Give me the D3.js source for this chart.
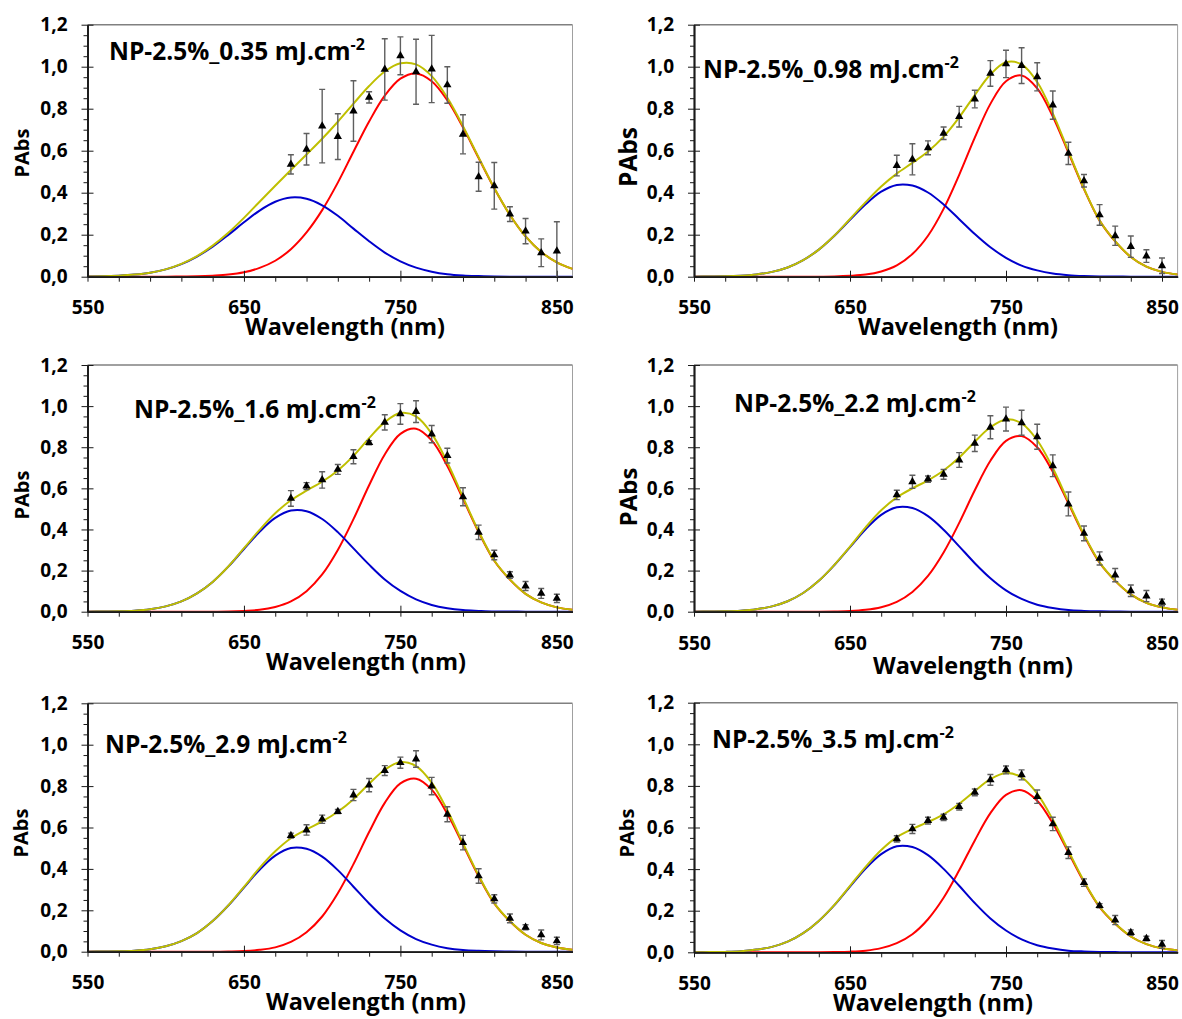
<!DOCTYPE html>
<html><head><meta charset="utf-8">
<script src="https://cdn.jsdelivr.net/npm/d3@7"></script>
<style>
body{margin:0;background:#fff;}
svg{display:block;font-family:"Open Sans",Lato,sans-serif;font-weight:bold;}
</style></head><body>
<svg id="chart" width="1182" height="1019"></svg>
<script>
// ---------- data ----------
const pointWavelengths = [680,690,700,710,720,730,740,750,760,770,780,790,800,810,820,830,840,850];
const curveWavelengths = [550,560,570,580,590,600,610,620,630,640,650,660,670,680,690,700,710,720,730,740,750,760,770,780,790,800,810,820,830,840,850,860];
const xTickValues = [550,650,750,850];
const xMinorTicks = [570,590,610,630,670,690,710,730,770,790,810,830];
const yTickValues = [0,0.2,0.4,0.6,0.8,1.0,1.2];
const yMinorTicks = [0.05,0.1,0.15,0.25,0.3,0.35,0.45,0.5,0.55,0.65,0.7,0.75,0.85,0.9,0.95,1.05,1.1,1.15];
const titles = ["NP-2.5%_0.35 mJ.cm","NP-2.5%_0.98 mJ.cm","NP-2.5%_1.6 mJ.cm","NP-2.5%_2.2 mJ.cm","NP-2.5%_2.9 mJ.cm","NP-2.5%_3.5 mJ.cm"];
const titleSup = "-2";
const xTitle = "Wavelength (nm)";
const yTitle = "PAbs";

// measured points (PAbs) and error bars
const abs035 = [0.535,0.607,0.717,0.667,0.789,0.854,0.987,1.052,0.976,0.989,0.913,0.678,0.476,0.433,0.298,0.217,0.114,0.122];
const err035 = [0.046,0.075,0.175,0.109,0.144,0.027,0.146,0.090,0.155,0.160,0.087,0.093,0.069,0.111,0.035,0.060,0.066,0.140];
const abs098 = [0.529,0.559,0.614,0.683,0.762,0.846,0.968,1.013,1.005,0.952,0.817,0.587,0.457,0.294,0.195,0.143,0.098,0.052];
const err098 = [0.049,0.074,0.033,0.030,0.049,0.042,0.061,0.065,0.085,0.067,0.067,0.053,0.030,0.049,0.046,0.051,0.030,0.037];
const abs16  = [0.551,0.611,0.641,0.692,0.754,0.822,0.921,0.962,0.973,0.864,0.759,0.559,0.386,0.276,0.178,0.125,0.089,0.065];
const err16  = [0.038,0.017,0.040,0.024,0.034,0.010,0.037,0.050,0.053,0.042,0.036,0.044,0.035,0.023,0.016,0.022,0.024,0.020];
const abs22  = [0.568,0.632,0.645,0.668,0.738,0.819,0.897,0.937,0.919,0.851,0.710,0.524,0.381,0.259,0.178,0.102,0.076,0.045];
const err22  = [0.023,0.032,0.015,0.024,0.036,0.040,0.056,0.058,0.061,0.061,0.053,0.058,0.036,0.032,0.032,0.028,0.027,0.016];
const abs29  = [0.561,0.588,0.640,0.677,0.757,0.805,0.875,0.913,0.931,0.800,0.664,0.527,0.366,0.255,0.161,0.118,0.081,0.052];
const err29  = [0.012,0.025,0.020,0.010,0.027,0.032,0.024,0.027,0.040,0.042,0.036,0.035,0.035,0.020,0.021,0.012,0.024,0.018];
const abs35  = [0.545,0.593,0.633,0.649,0.700,0.769,0.829,0.877,0.853,0.748,0.617,0.479,0.335,0.224,0.155,0.095,0.066,0.038];
const err35  = [0.015,0.022,0.016,0.015,0.016,0.016,0.026,0.019,0.024,0.032,0.032,0.028,0.018,0.010,0.022,0.013,0.011,0.019];

const blue035 = [0.001,0.002,0.005,0.010,0.019,0.035,0.060,0.096,0.143,0.199,0.259,0.315,0.357,0.377,0.371,0.340,0.290,0.229,0.169,0.115,0.073,0.043,0.024,0.012,0.006,0.003,0.001,0,0,0,0,0];
const red035  = [0,0,0,0,0,0,0.001,0.002,0.005,0.010,0.021,0.042,0.076,0.131,0.211,0.317,0.448,0.595,0.739,0.862,0.943,0.968,0.931,0.840,0.711,0.565,0.421,0.294,0.192,0.118,0.068,0.037];
const fit035  = [0.001,0.002,0.005,0.010,0.019,0.035,0.061,0.098,0.148,0.209,0.280,0.357,0.433,0.508,0.582,0.657,0.738,0.824,0.908,0.977,1.016,1.011,0.955,0.852,0.717,0.568,0.422,0.294,0.192,0.118,0.068,0.037];

const blue098 = [0,0.001,0.002,0.005,0.011,0.023,0.044,0.079,0.129,0.195,0.271,0.345,0.405,0.437,0.434,0.401,0.344,0.274,0.203,0.140,0.090,0.053,0.030,0.015,0.007,0.003,0.001,0.001,0,0,0,0];
const red098  = [0,0,0,0,0,0,0,0,0,0.001,0.004,0.010,0.025,0.054,0.108,0.195,0.323,0.485,0.662,0.823,0.931,0.958,0.897,0.763,0.591,0.417,0.267,0.168,0.094,0.048,0.023,0.011];
const fit098  = [0,0.001,0.002,0.005,0.011,0.023,0.044,0.079,0.129,0.196,0.275,0.355,0.430,0.491,0.542,0.596,0.667,0.759,0.865,0.963,1.021,1.011,0.927,0.778,0.598,0.420,0.268,0.169,0.094,0.048,0.023,0.011];

const blue16 = [0,0.001,0.002,0.005,0.012,0.026,0.050,0.089,0.145,0.219,0.305,0.389,0.456,0.492,0.489,0.451,0.387,0.308,0.229,0.157,0.101,0.060,0.033,0.017,0.008,0.004,0.001,0.001,0,0,0,0];
const red16  = [0,0,0,0,0,0,0,0,0,0.001,0.004,0.009,0.023,0.050,0.100,0.181,0.300,0.450,0.615,0.765,0.865,0.890,0.833,0.709,0.549,0.387,0.248,0.156,0.087,0.045,0.021,0.010];
const fit16  = [0,0.001,0.002,0.005,0.012,0.026,0.050,0.089,0.145,0.220,0.309,0.398,0.479,0.542,0.589,0.632,0.687,0.758,0.844,0.922,0.966,0.950,0.866,0.726,0.557,0.391,0.249,0.157,0.087,0.045,0.021,0.010];

const blue22 = [0,0.001,0.002,0.005,0.012,0.026,0.051,0.091,0.150,0.227,0.314,0.401,0.471,0.508,0.504,0.465,0.399,0.318,0.236,0.163,0.104,0.062,0.034,0.018,0.008,0.004,0.002,0.001,0,0,0,0];
const red22  = [0,0,0,0,0,0,0,0,0,0.001,0.003,0.009,0.022,0.048,0.096,0.174,0.288,0.432,0.591,0.734,0.831,0.854,0.800,0.681,0.527,0.371,0.238,0.150,0.084,0.043,0.021,0.009];
const fit22  = [0,0.001,0.002,0.005,0.012,0.026,0.051,0.091,0.150,0.228,0.317,0.410,0.493,0.556,0.600,0.639,0.687,0.750,0.827,0.897,0.935,0.916,0.834,0.699,0.535,0.375,0.240,0.151,0.084,0.043,0.021,0.009];

const blue29 = [0,0.001,0.002,0.005,0.012,0.026,0.051,0.090,0.148,0.223,0.310,0.396,0.464,0.501,0.497,0.459,0.394,0.314,0.233,0.160,0.103,0.061,0.034,0.017,0.008,0.004,0.002,0.001,0,0,0,0];
const red29  = [0,0,0,0,0,0,0,0,0,0.001,0.003,0.009,0.021,0.047,0.094,0.170,0.282,0.423,0.578,0.719,0.813,0.836,0.783,0.666,0.516,0.364,0.233,0.147,0.082,0.042,0.020,0.009];
const fit29  = [0,0.001,0.002,0.005,0.012,0.026,0.051,0.090,0.148,0.224,0.313,0.405,0.485,0.548,0.591,0.629,0.676,0.737,0.811,0.879,0.916,0.897,0.817,0.683,0.524,0.368,0.235,0.148,0.082,0.042,0.020,0.009];

const blue35 = [0,0.001,0.002,0.005,0.013,0.026,0.051,0.092,0.151,0.227,0.316,0.403,0.472,0.510,0.506,0.467,0.401,0.320,0.237,0.163,0.105,0.062,0.034,0.018,0.008,0.004,0.002,0.001,0,0,0,0];
const red35  = [0,0,0,0,0,0,0,0,0,0.001,0.003,0.008,0.020,0.044,0.087,0.159,0.262,0.394,0.538,0.669,0.757,0.779,0.729,0.620,0.480,0.338,0.217,0.137,0.076,0.039,0.019,0.009];
const fit35  = [0,0.001,0.002,0.005,0.013,0.026,0.051,0.092,0.151,0.228,0.319,0.411,0.492,0.554,0.593,0.626,0.663,0.714,0.775,0.832,0.862,0.841,0.763,0.638,0.488,0.342,0.219,0.138,0.076,0.039,0.019,0.009];

const panels = [
  {title: titles[0], pts: abs035, err: err035, blue: blue035, red: red035, fit: fit035},
  {title: titles[1], pts: abs098, err: err098, blue: blue098, red: red098, fit: fit098},
  {title: titles[2], pts: abs16,  err: err16,  blue: blue16,  red: red16,  fit: fit16},
  {title: titles[3], pts: abs22,  err: err22,  blue: blue22,  red: red22,  fit: fit22},
  {title: titles[4], pts: abs29,  err: err29,  blue: blue29,  red: red29,  fit: fit29},
  {title: titles[5], pts: abs35,  err: err35,  blue: blue35,  red: red35,  fit: fit35}
];

// ---------- layout (positions / sizes) ----------
const layout = [
  {x0:87.5, x1:572.5,  y0:276.7, y1:24.7,  tx:109, ty:60,  px:21,  py:153, ps:20,   wx:345, wy:335, ly:314},
  {x0:694,  x1:1177.6, y0:276.7, y1:24.7,  tx:703, ty:78,  px:627, py:157, ps:24.5, wx:958, wy:335, ly:314},
  {x0:87.5, x1:572.5,  y0:611.7, y1:365,   tx:134, ty:418, px:21,  py:495, ps:20,   wx:366, wy:670, ly:649},
  {x0:694,  x1:1177.6, y0:611.7, y1:365,   tx:734, ty:412, px:627, py:497, ps:24,   wx:973, wy:674, ly:650},
  {x0:87.5, x1:572.5,  y0:951.7, y1:703.3, tx:105, ty:753, px:20,  py:833, ps:20,   wx:366, wy:1010, ly:989},
  {x0:694,  x1:1177.6, y0:952.3, y1:702.7, tx:712, ty:748, px:626, py:833, ps:20,   wx:933, wy:1011, ly:990}
];

const FONT = "'Open Sans', Lato, sans-serif";
const COLORS = {fit:"#bfbf00", blue:"#0000cc", red:"#ff0000", err:"#5f5f5f", axis:"#1a1a1a"};
const fmtY = d => d3.format(".1f")(d).replace(".", ",");

const svg = d3.select("#chart");
const defs = svg.append("defs");

panels.forEach((p, i) => {
  const L = layout[i];
  const x = d3.scaleLinear().domain([550, 860]).range([L.x0, L.x1]);
  const y = d3.scaleLinear().domain([0, 1.2]).range([L.y0, L.y1]);
  const g = svg.append("g");
  const clipId = "clip" + i;
  defs.append("clipPath").attr("id", clipId).append("rect")
    .attr("x", L.x0).attr("y", L.y1 - 1).attr("width", L.x1 - L.x0).attr("height", L.y0 - L.y1 + 1);

  // frame (top / right)
  g.append("line").attr("x1", L.x0).attr("x2", L.x1).attr("y1", L.y1).attr("y2", L.y1)
    .attr("stroke", "#808080").attr("stroke-width", 1.5);
  g.append("line").attr("x1", L.x1).attr("x2", L.x1).attr("y1", L.y1).attr("y2", L.y0)
    .attr("stroke", "#a0a0a0").attr("stroke-width", 1);

  // curves
  const line = d3.line().x((d, j) => x(curveWavelengths[j])).y(d => y(d)).curve(d3.curveCatmullRom);
  const cg = g.append("g").attr("clip-path", `url(#${clipId})`).attr("fill", "none").attr("stroke-width", 2);
  cg.append("path").datum(p.red).attr("d", line).attr("stroke", COLORS.red);
  cg.append("path").datum(p.blue).attr("d", line).attr("stroke", COLORS.blue);
  cg.append("path").datum(p.fit).attr("d", line).attr("stroke", COLORS.fit);

  // axes
  const styleAxis = sel => {
    sel.select(".domain").attr("stroke", COLORS.axis).attr("stroke-width", 1.5);
    sel.selectAll(".tick line").attr("stroke", COLORS.axis).attr("stroke-width", 1);
    sel.selectAll(".tick text").attr("font-size", 19).attr("font-weight", "bold").attr("fill", "#000")
      .attr("font-family", FONT);
  };
  g.append("g").attr("transform", `translate(${L.x0},0)`)
    .call(d3.axisLeft(y).tickValues(yMinorTicks).tickSize(4).tickSizeOuter(0).tickFormat(""))
    .call(styleAxis);
  g.append("g").attr("transform", `translate(${L.x0},0)`)
    .call(d3.axisRight(y).tickValues(yTickValues).tickSize(6).tickSizeOuter(0).tickFormat(""))
    .call(styleAxis);
  g.append("g").attr("transform", `translate(${L.x0},0)`)
    .call(d3.axisLeft(y).tickValues(yTickValues).tickSize(6).tickSizeOuter(0).tickPadding(14).tickFormat(fmtY))
    .call(styleAxis);

  g.append("g").attr("transform", `translate(0,${L.y0})`)
    .call(d3.axisBottom(x).tickValues(xMinorTicks).tickSize(5).tickSizeOuter(0).tickFormat(""))
    .call(styleAxis);
  g.append("g").attr("transform", `translate(0,${L.y0})`)
    .call(d3.axisTop(x).tickValues(xTickValues).tickSize(6).tickSizeOuter(0).tickFormat(""))
    .call(styleAxis);
  const xa = g.append("g").attr("transform", `translate(0,${L.y0})`)
    .call(d3.axisBottom(x).tickValues(xTickValues).tickSize(5).tickSizeOuter(0).tickFormat(d3.format("d")))
    .call(styleAxis);
  xa.selectAll(".tick text").attr("dy", null).attr("y", L.ly - L.y0).attr("dominant-baseline", "auto");

  // error bars
  const eg = g.append("g").attr("clip-path", `url(#${clipId})`).attr("stroke", COLORS.err).attr("stroke-width", 1.4);
  p.pts.forEach((v, j) => {
    const cx = x(pointWavelengths[j]);
    const top = y(v + p.err[j]), bot = y(v - p.err[j]);
    eg.append("line").attr("x1", cx).attr("x2", cx).attr("y1", top).attr("y2", bot);
    eg.append("line").attr("x1", cx - 3).attr("x2", cx + 3).attr("y1", top).attr("y2", top);
    eg.append("line").attr("x1", cx - 3).attr("x2", cx + 3).attr("y1", bot).attr("y2", bot);
  });

  // markers
  const tri = d3.symbol().type(d3.symbolTriangle).size(30);
  g.append("g").selectAll("path").data(p.pts).join("path")
    .attr("d", tri)
    .attr("transform", (v, j) => `translate(${x(pointWavelengths[j])},${y(v)})`)
    .attr("fill", "#000");

  // texts
  const t = g.append("text").attr("x", L.tx).attr("y", L.ty).attr("font-size", 24.5).attr("font-weight", "bold")
    .attr("font-family", FONT).attr("fill", "#000");
  t.append("tspan").text(p.title);
  t.append("tspan").attr("font-size", 16).attr("dy", -10).text(titleSup);

  g.append("text").attr("x", L.wx).attr("y", L.wy).attr("text-anchor", "middle").attr("font-family", FONT)
    .attr("font-size", 23.5).attr("font-weight", "bold").attr("fill", "#000").text(xTitle);

  g.append("text").attr("transform", `translate(${L.px},${L.py}) rotate(-90)`)
    .attr("text-anchor", "middle").attr("dominant-baseline", "central").attr("font-family", FONT)
    .attr("font-size", L.ps).attr("font-weight", "bold").attr("fill", "#000").text(yTitle);
});
</script>
</body></html>
